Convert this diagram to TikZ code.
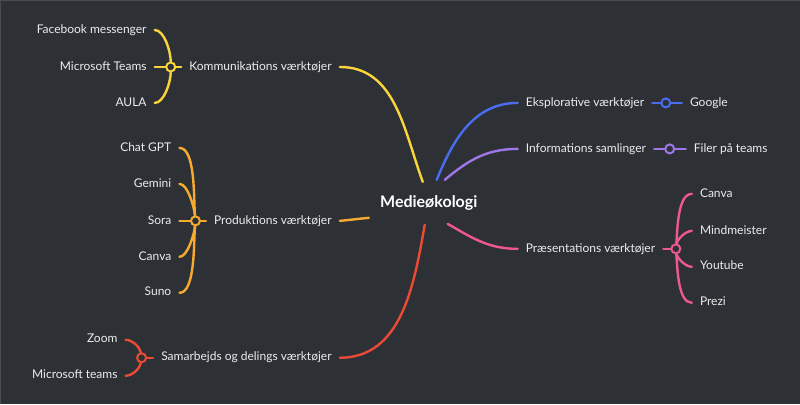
\documentclass[tikz,border=0pt]{standalone}
\usepackage{fontspec}
\setmainfont{Lato}
\usetikzlibrary{calc,positioning}

\definecolor{bg}{RGB}{45,49,54}
\definecolor{edge}{RGB}{72,76,82}
\definecolor{txt}{RGB}{236,236,236}
\definecolor{cyellow}{RGB}{250,212,58}
\definecolor{corange}{RGB}{247,170,48}
\definecolor{cred}{RGB}{236,74,52}
\definecolor{cblue}{RGB}{74,108,240}
\definecolor{cpurple}{RGB}{158,118,230}
\definecolor{cpink}{RGB}{238,88,140}

\tikzset{
  item/.style={text=txt, font=\fontsize{12}{14}\selectfont, inner xsep=8pt, inner ysep=1pt,
    text height=1.5ex, text depth=.25ex},
  hub/.style={circle, draw=#1, fill=bg, line width=2pt, minimum size=9pt, inner sep=0pt},
  branch/.style={draw=#1, line width=2.4pt, line cap=round},
}

\begin{document}
\begin{tikzpicture}[x=1pt,y=1pt]
\fill[bg] (0,0) rectangle (800,404);
\draw[edge, line width=1pt] (0.5,0) -- (0.5,403.5) -- (800,403.5);
\useasboundingbox (0,0) rectangle (800,404);

\node[text=white, font=\bfseries\fontsize{16}{18}\selectfont] (c) at (429,201) {Medieøkologi};

% left side
\node[item, anchor=east] (komm) at (340,337) {Kommunikations værktøjer};
\node[hub=cyellow, left=5pt of komm] (kommhub) {};
\draw[branch=cyellow] (komm.east) to[out=0,in=110] ($(c)+(-6,21)$);
\draw[branch=cyellow] (kommhub) -- (komm.west);
\def\kommleaves{1/37/90/{Facebook messenger},2/0/180/{Microsoft Teams},3/-36/-90/{AULA}}
\foreach \i / \dy / \o / \element in \kommleaves {
  \node[item, anchor=east] (komm\i) at ($(kommhub)+(-16,\dy)$) {\element};
  \draw[branch=cyellow] (kommhub) to[out=\o,in=0,looseness=.7] (komm\i.east);
}

\node[item, anchor=east] (prod) at (340,183) {Produktions værktøjer};
\node[hub=corange, left=5pt of prod] (prodhub) {};
\draw[branch=corange] (prod.east) to[out=5,in=185] ($(c)+(-60,-15)$);
\draw[branch=corange] (prodhub) -- (prod.west);
\def\prodleaves{1/73/95/{Chat GPT},2/37/95/{Gemini},3/0/180/{Sora},4/-36/-95/{Canva},5/-72/-95/{Suno}}
\foreach \i / \dy / \o / \element in \prodleaves {
  \node[item, anchor=east] (prod\i) at ($(prodhub)+(-16,\dy)$) {\element};
  \draw[branch=corange] (prodhub) to[out=\o,in=0,looseness=.6] (prod\i.east);
}

\node[item, anchor=east] (samb) at (340,46) {Samarbejds og delings værktøjer};
\node[hub=cred, left=6pt of samb] (sambhub) {};
\draw[branch=cred] (samb.east) to[out=0,in=-100] ($(c)+(-4,-22)$);
\draw[branch=cred] (sambhub) -- (samb.west);
\def\sambleaves{1/18/100/{Zoom},2/-18/-100/{Microsoft teams}}
\foreach \i / \dy / \o / \element in \sambleaves {
  \node[item, anchor=east] (samb\i) at ($(sambhub)+(-16,\dy)$) {\element};
  \draw[branch=cred] (sambhub) to[out=\o,in=0,looseness=.8] (samb\i.east);
}

% right side
\node[item, anchor=west] (eksp) at (518,301) {Eksplorative værktøjer};
\node[hub=cblue, right=8pt of eksp] (eksphub) {};
\node[item, anchor=west] (eksp1) at ($(eksphub)+(16,0)$) {Google};
\draw[branch=cblue] (eksp.west) to[out=180,in=68] ($(c)+(8,23)$);
\draw[branch=cblue] (eksp.east) -- (eksphub) -- (eksp1.west);

\node[item, anchor=west] (info) at (518,255) {Informations samlinger};
\node[hub=cpurple, right=10pt of info] (infohub) {};
\node[item, anchor=west] (info1) at ($(infohub)+(16,0)$) {Filer på teams};
\draw[branch=cpurple] (info.west) to[out=180,in=40] ($(c)+(16,23)$);
\draw[branch=cpurple] (info.east) -- (infohub) -- (info1.west);

\node[item, anchor=west] (praes) at (518,155) {Præsentations værktøjer};
\node[hub=cpink, right=7pt of praes] (praeshub) {};
\draw[branch=cpink] (praes.west) to[out=180,in=-30] ($(c)+(19,-21)$);
\draw[branch=cpink] (praes.east) -- (praeshub);
\def\praesleaves{1/55/85/{Canva},2/18/80/{Mindmeister},3/-18/-80/{Youtube},4/-54/-85/{Prezi}}
\foreach \i / \dy / \o / \element in \praesleaves {
  \node[item, anchor=west] (praes\i) at ($(praeshub)+(16,\dy)$) {\element};
  \draw[branch=cpink] (praeshub) to[out=\o,in=180,looseness=.7] (praes\i.west);
}

\end{tikzpicture}
\end{document}
